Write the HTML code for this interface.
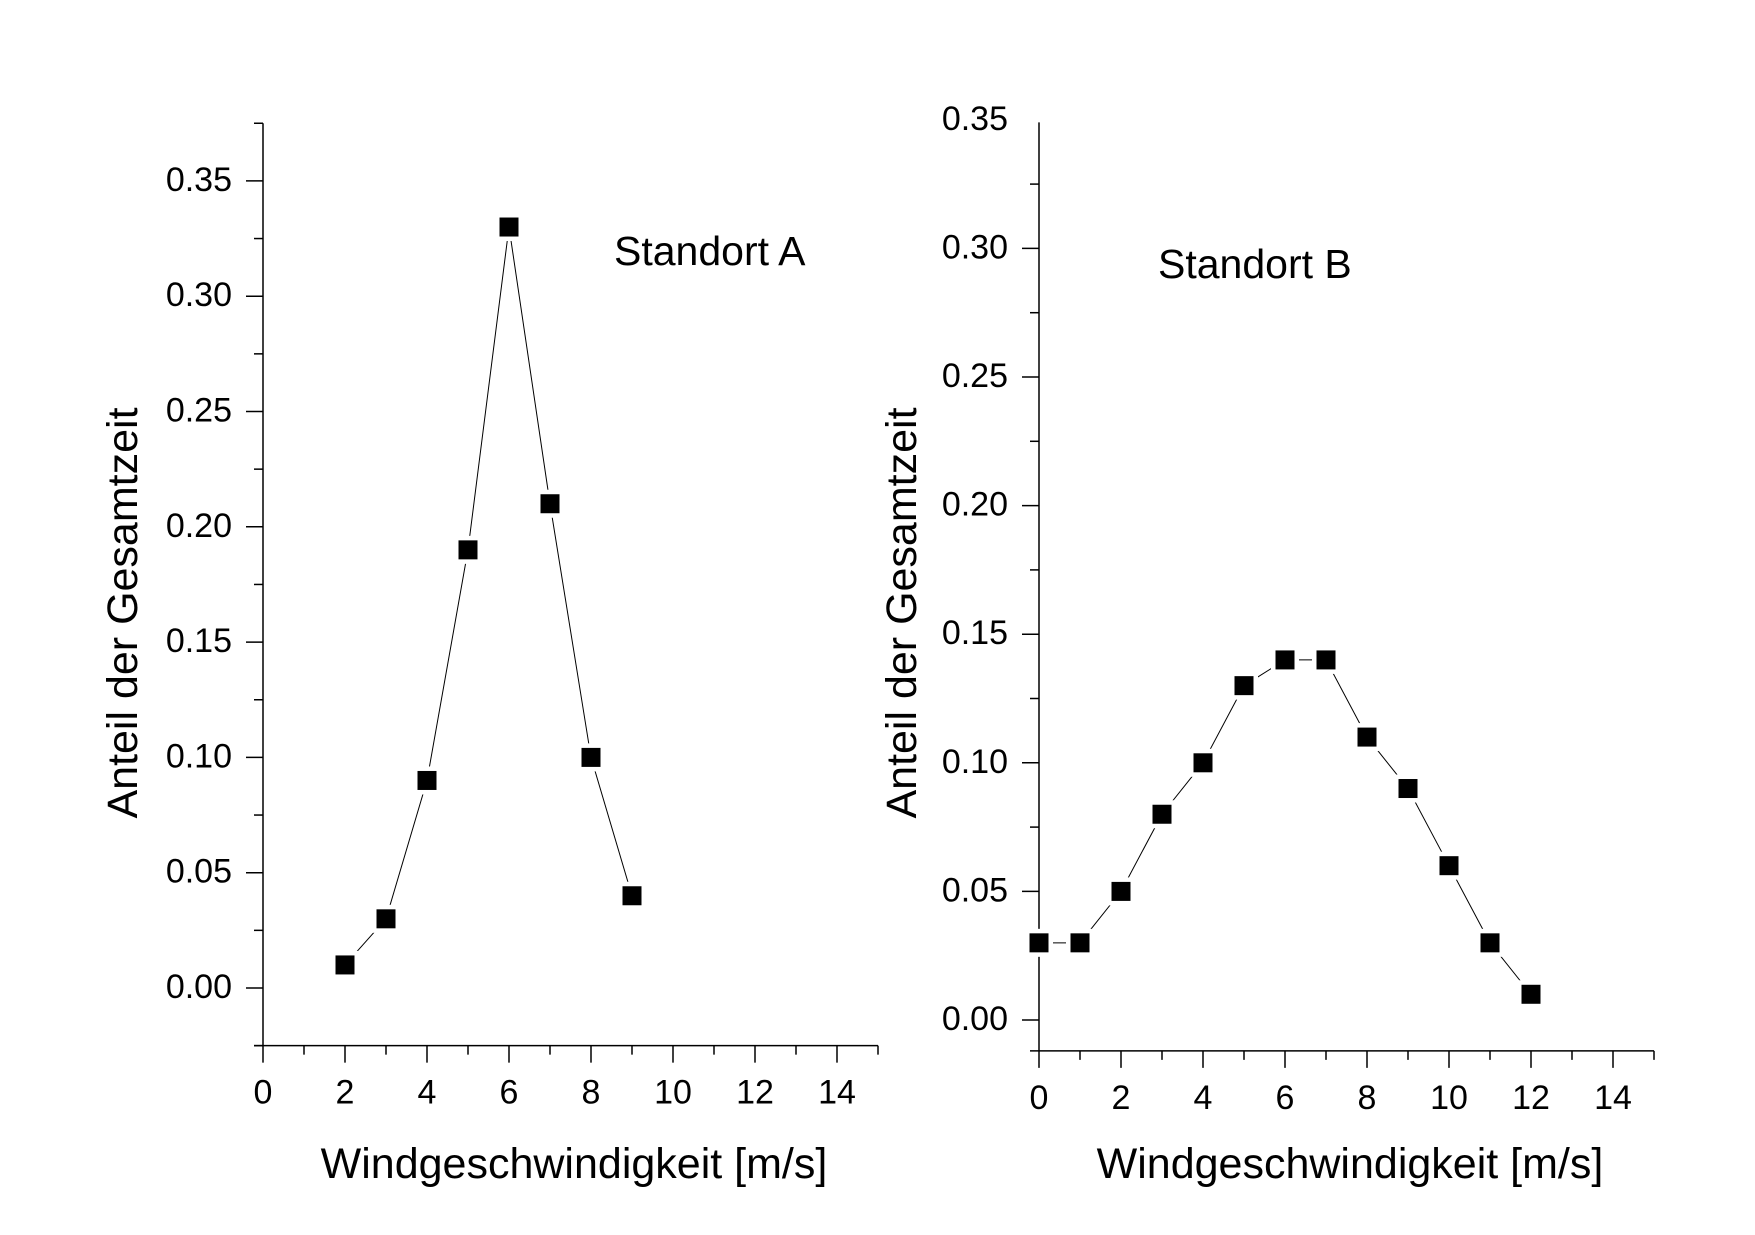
<!DOCTYPE html>
<html><head><meta charset="utf-8"><style>
body{margin:0;background:#fff}
svg text{font-family:"Liberation Sans",sans-serif;fill:#000}
</style></head><body>
<svg id="s" width="1755" height="1230" xmlns="http://www.w3.org/2000/svg"></svg>
<script>
const xA = [2,3,4,5,6,7,8,9];
const yA = [0.01,0.03,0.09,0.19,0.33,0.21,0.10,0.04];
const xB = [0,1,2,3,4,5,6,7,8,9,10,11,12];
const yB = [0.03,0.03,0.05,0.08,0.10,0.13,0.14,0.14,0.11,0.09,0.06,0.03,0.01];
const xTicks = [0,2,4,6,8,10,12,14];
const yTicksA = [0,0.05,0.10,0.15,0.20,0.25,0.30,0.35];
const yTicksB = [0,0.05,0.10,0.15,0.20,0.25,0.30,0.35];
const NS='http://www.w3.org/2000/svg';
const svg=document.getElementById('s');
function el(t,a,p){const e=document.createElementNS(NS,t);for(const k in a)e.setAttribute(k,a[k]);(p||svg).appendChild(e);return e;}
function panel(cfg){
  const g=el('g',{});
  
  
  const X=v=>cfg.x0+v*cfg.xs, Y=v=>cfg.y0-v*cfg.ys;
  const yb=Y(cfg.ymin), yt=Y(cfg.ymax), xr=X(15);
  const ya=el('line',{x1:X(0),y1:yt,x2:X(0),y2:yb,stroke:'#000','stroke-width':1.5},g);
  
  const xa=el('line',{x1:X(0)-9,y1:yb,x2:xr,y2:yb,stroke:'#000','stroke-width':1.5},g);
  
  for(let v=0;v<=15;v++){
    const L=v%2==0?17:9;
    el('line',{x1:X(v),y1:yb,x2:X(v),y2:yb+L,stroke:'#000','stroke-width':1.5},g);
  }
  xTicks.forEach(v=>{const t=el('text',{x:X(v),y:yb+58,'font-size':34,'text-anchor':'middle'},g);t.textContent=v;
    });
  for(let v=Math.ceil(cfg.ymin/0.025)*0.025;v<=cfg.ymax+1e-6;v+=0.025){
    const maj=Math.abs(Math.round(v/0.05)*0.05-v)<1e-6;
    el('line',{x1:X(0),y1:Y(v),x2:X(0)-(maj?17:9),y2:Y(v),stroke:'#000','stroke-width':1.5},g);
  }
  cfg.yt.forEach(v=>{const t=el('text',{x:X(0)-31,y:Y(v)+10,'font-size':34,'text-anchor':'end'},g);t.textContent=v.toFixed(2);
    });
  const pts=cfg.xs_.map((v,i)=>X(v)+','+Y(cfg.ys_[i])).join(' ');
  const pl=el('polyline',{points:pts,fill:'none',stroke:'#000','stroke-width':1},g);
  
  cfg.xs_.forEach((v,i)=>el('rect',{x:X(v)-14,y:Y(cfg.ys_[i])-14,width:28,height:28,fill:'#fff'},g));
  cfg.xs_.forEach((v,i)=>{const r=el('rect',{x:X(v)-9.5,y:Y(cfg.ys_[i])-9.5,width:19,height:19,fill:'#000'},g);
    });
  const xt=el('text',{x:cfg.xtx,y:1178,'font-size':43,'text-anchor':'middle'},g);xt.textContent='Windgeschwindigkeit [m/s]';
  
  const yt2=el('text',{x:0,y:0,'font-size':43,'text-anchor':'middle',transform:`translate(${cfg.ytx},613) rotate(-90)`},g);yt2.textContent='Anteil der Gesamtzeit';
  
  const lb=el('text',{x:cfg.lx,y:cfg.ly,'font-size':41},g);lb.textContent=cfg.label;
  
}
panel({name:'panel-standort-a',x0:263,xs:41,y0:988,ys:2306,ymin:-0.025,ymax:0.375,yt:yTicksA,xs_:xA,ys_:yA,xtx:574,ytx:137,lx:614,ly:265,label:'Standort A'});
panel({name:'panel-standort-b',x0:1039,xs:41,y0:1020,ys:2572,ymin:-0.012,ymax:0.349,yt:yTicksB,xs_:xB,ys_:yB,xtx:1350,ytx:916,lx:1158,ly:278,label:'Standort B'});
</script>
</body></html>
